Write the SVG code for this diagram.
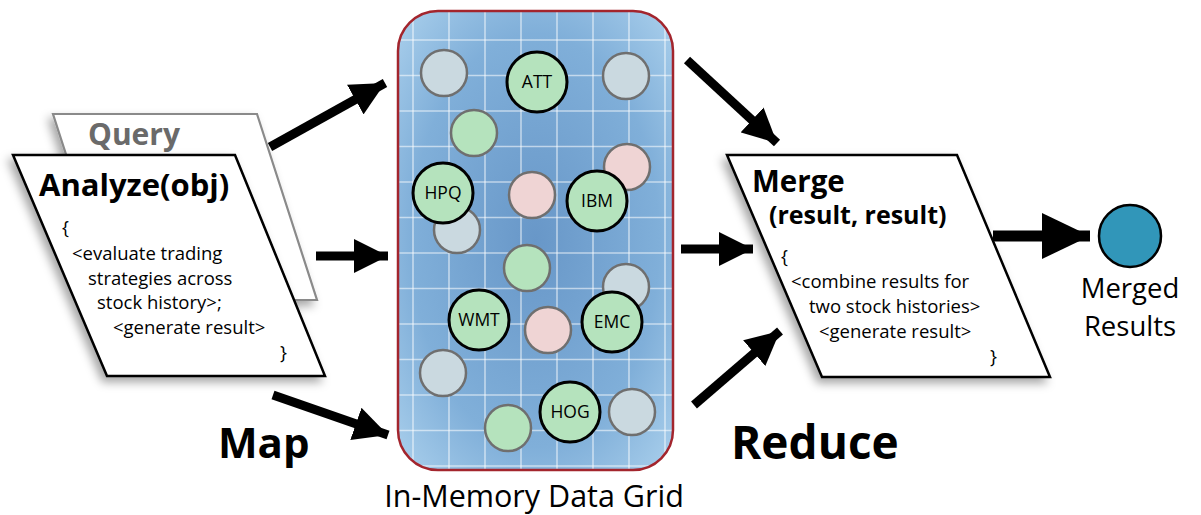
<svg xmlns="http://www.w3.org/2000/svg" width="1201" height="515" viewBox="0 0 1201 515">
  <style>
    .t { font-family: "Open Sans", "Noto Sans", "DejaVu Sans", sans-serif; fill: #000; }
    .b { font-weight: bold; }
    .code { font-size: 18.5px; }
    .card { fill: #fff; stroke: #000; stroke-width: 2.5; stroke-linejoin: miter; }
    .back { fill: #fff; stroke: #8a8a8a; stroke-width: 2.2; }
    .grid line { stroke: #fff; stroke-opacity: 0.55; stroke-width: 1.6; }
    .g { fill: #cad9e0; stroke: #6f6f6f; stroke-width: 2.5; }
    .n { fill: #b5e3bd; stroke: #6f6f6f; stroke-width: 2.5; }
    .p { fill: #efd4d4; stroke: #6f6f6f; stroke-width: 2.5; }
    .k { fill: #b5e3bd; stroke: #000; stroke-width: 3; }
    .lbl { font-size: 17.5px; text-anchor: middle; }
    .shaft { stroke: #000; stroke-width: 9; fill: none; }
  </style>
  <defs>
    <radialGradient id="gridFill" cx="50%" cy="50%" r="75%">
      <stop offset="0" stop-color="#6897c8"/>
      <stop offset="0.6" stop-color="#80afd9"/>
      <stop offset="1" stop-color="#b2d6f0"/>
    </radialGradient>
    <clipPath id="boxClip">
      <rect x="398" y="11" width="275" height="459" rx="40" ry="40"/>
    </clipPath>
    <filter id="shadow" x="-20%" y="-20%" width="140%" height="140%">
      <feDropShadow dx="-4" dy="5" stdDeviation="5" flood-color="#000" flood-opacity="0.35"/>
    </filter>
    <marker id="head" viewBox="0 0 10 10" refX="10" refY="5" markerUnits="userSpaceOnUse" markerWidth="34" markerHeight="34" orient="auto">
      <path d="M0,0 L10,5 L0,10 Z" fill="#000"/>
    </marker>
    <marker id="headBig" viewBox="0 0 10 10" refX="10" refY="5" markerUnits="userSpaceOnUse" markerWidth="48" markerHeight="46" orient="auto" preserveAspectRatio="none">
      <path d="M0,0 L10,5 L0,10 Z" fill="#000"/>
    </marker>
  </defs>

  <!-- Query card behind Analyze -->
  <g id="query">
    <polygon class="back" points="53,114 257,114 317,300 113,300" filter="url(#shadow)"/>
    <text class="t b" x="88" y="145" font-size="30" style="fill:#6a6a6a">Query</text>
  </g>

  <!-- Analyze card -->
  <g id="analyze">
    <polygon class="card" points="13,155 235,155 325,376 107,376" filter="url(#shadow)"/>
    <text class="t b" x="39" y="196" font-size="31">Analyze(obj)</text>
    <text class="t code" x="62" y="234">{</text>
    <text class="t code" x="72" y="260">&lt;evaluate trading</text>
    <text class="t code" x="88" y="285">strategies across</text>
    <text class="t code" x="97" y="309">stock history&gt;;</text>
    <text class="t code" x="113" y="334">&lt;generate result&gt;</text>
    <text class="t code" x="280" y="359">}</text>
  </g>

  <!-- In-memory data grid -->
  <g id="data-grid">
    <rect x="398" y="11" width="275" height="459" rx="40" ry="40" fill="url(#gridFill)"/>
    <g class="grid" clip-path="url(#boxClip)">
      <line x1="413" y1="0" x2="413" y2="480"/>
      <line x1="449" y1="0" x2="449" y2="480"/>
      <line x1="485" y1="0" x2="485" y2="480"/>
      <line x1="521" y1="0" x2="521" y2="480"/>
      <line x1="557" y1="0" x2="557" y2="480"/>
      <line x1="593" y1="0" x2="593" y2="480"/>
      <line x1="629" y1="0" x2="629" y2="480"/>
      <line x1="665" y1="0" x2="665" y2="480"/>
      <line x1="390" y1="40" x2="680" y2="40"/>
      <line x1="390" y1="75.5" x2="680" y2="75.5"/>
      <line x1="390" y1="111" x2="680" y2="111"/>
      <line x1="390" y1="146.5" x2="680" y2="146.5"/>
      <line x1="390" y1="182" x2="680" y2="182"/>
      <line x1="390" y1="217.5" x2="680" y2="217.5"/>
      <line x1="390" y1="253" x2="680" y2="253"/>
      <line x1="390" y1="288.5" x2="680" y2="288.5"/>
      <line x1="390" y1="324" x2="680" y2="324"/>
      <line x1="390" y1="359.5" x2="680" y2="359.5"/>
      <line x1="390" y1="395" x2="680" y2="395"/>
      <line x1="390" y1="430.5" x2="680" y2="430.5"/>
      <line x1="390" y1="466" x2="680" y2="466"/>
    </g>
    <rect x="398" y="11" width="275" height="459" rx="40" ry="40" fill="none" stroke="#a3252d" stroke-width="2.5"/>
    <text class="t" x="534" y="507" font-size="30.5" text-anchor="middle">In-Memory Data Grid</text>
  </g>

  <!-- unlabelled entries -->
  <g id="entries">
    <circle class="g" cx="444" cy="73" r="23"/>
    <circle class="g" cx="626" cy="76" r="23"/>
    <circle class="n" cx="474" cy="133" r="23"/>
    <circle class="p" cx="627" cy="167" r="23"/>
    <circle class="g" cx="457" cy="230" r="23"/>
    <circle class="p" cx="532" cy="195" r="23"/>
    <circle class="n" cx="527" cy="268" r="23"/>
    <circle class="g" cx="626" cy="287" r="23"/>
    <circle class="p" cx="548" cy="330" r="23"/>
    <circle class="g" cx="443" cy="373" r="23"/>
    <circle class="g" cx="632" cy="412" r="23"/>
    <circle class="n" cx="508" cy="428" r="23"/>
  </g>

  <!-- labelled stock entries -->
  <g id="att"><circle class="k" cx="537" cy="82" r="30"/><text class="t lbl" x="537" y="88">ATT</text></g>
  <g id="hpq"><circle class="k" cx="443" cy="193" r="30"/><text class="t lbl" x="443" y="199">HPQ</text></g>
  <g id="ibm"><circle class="k" cx="597" cy="201" r="30"/><text class="t lbl" x="597" y="207">IBM</text></g>
  <g id="wmt"><circle class="k" cx="479" cy="320" r="30"/><text class="t lbl" x="479" y="326">WMT</text></g>
  <g id="emc"><circle class="k" cx="612" cy="322" r="30"/><text class="t lbl" x="612" y="328">EMC</text></g>
  <g id="hog"><circle class="k" cx="570" cy="412" r="30"/><text class="t lbl" x="570" y="418">HOG</text></g>

  <!-- Merge card -->
  <g id="merge">
    <polygon class="card" points="727,155 957,155 1050,377 822,377" filter="url(#shadow)"/>
    <text class="t b" x="752" y="192" font-size="29.5">Merge</text>
    <text class="t b" x="769" y="224" font-size="25">(result, result)</text>
    <text class="t code" x="781" y="263">{</text>
    <text class="t code" x="791" y="288">&lt;combine results for</text>
    <text class="t code" x="809" y="313">two stock histories&gt;</text>
    <text class="t code" x="819" y="338">&lt;generate result&gt;</text>
    <text class="t code" x="990" y="363">}</text>
  </g>

  <!-- Merged results -->
  <g id="merged-results">
    <circle cx="1130" cy="236" r="31" fill="#3196b9" stroke="#000" stroke-width="2.5"/>
    <text class="t" x="1130" y="298" font-size="27.5" text-anchor="middle">Merged</text>
    <text class="t" x="1130" y="336" font-size="27.5" text-anchor="middle">Results</text>
  </g>

  <!-- phase labels -->
  <g id="phase-labels">
    <text class="t b" x="218" y="458" font-size="42">Map</text>
    <text class="t b" x="731" y="459" font-size="46">Reduce</text>
  </g>

  <!-- connectors -->
  <g id="connectors">
    <line class="shaft" x1="270" y1="147" x2="385" y2="83" marker-end="url(#head)"/>
    <line class="shaft" x1="316" y1="256" x2="388" y2="256" marker-end="url(#head)"/>
    <line class="shaft" x1="273" y1="395" x2="388" y2="435" marker-end="url(#head)"/>
    <line class="shaft" x1="687" y1="60" x2="777" y2="143" marker-end="url(#head)"/>
    <line class="shaft" x1="681" y1="249" x2="753" y2="249" marker-end="url(#head)"/>
    <line class="shaft" x1="694" y1="405" x2="780" y2="331" marker-end="url(#head)"/>
    <line x1="993" y1="236" x2="1090" y2="236" stroke="#000" stroke-width="11" marker-end="url(#headBig)"/>
  </g>
</svg>
